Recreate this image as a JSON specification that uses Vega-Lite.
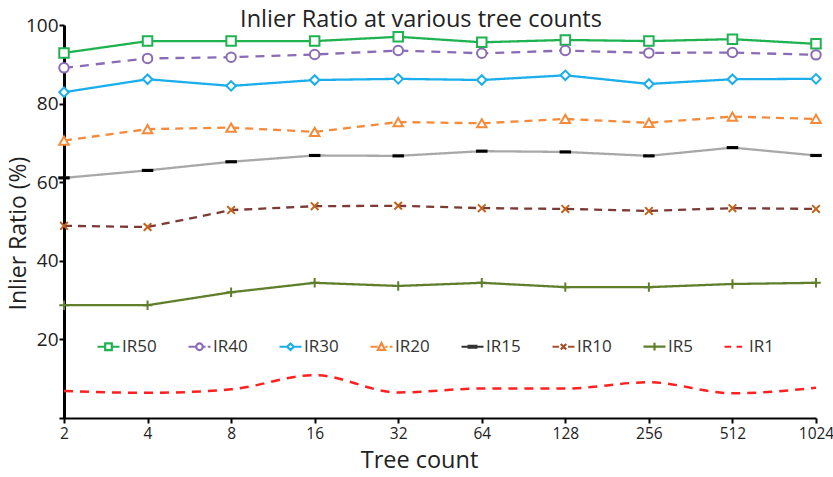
{
  "$schema": "https://vega.github.io/schema/vega-lite/v6.json",
  "width": 752,
  "height": 393,
  "autosize": "none",
  "padding": {"left": 64, "top": 25, "right": 17, "bottom": 59},
  "background": "white",
  "title": {"text": "Inlier Ratio at various tree counts", "font": "Open Sans", "fontSize": 23.5, "fontWeight": "normal", "color": "#222222", "anchor": "middle", "dx": -19, "offset": -1, "dy": 14},
  "config": {"view": {"stroke": null}, "font": "Open Sans"},
  "data": {"values": [
    {"trees": 2, "series": "IR50", "value": 92.9}, {"trees": 4, "series": "IR50", "value": 95.9}, {"trees": 8, "series": "IR50", "value": 95.9}, {"trees": 16, "series": "IR50", "value": 95.9}, {"trees": 32, "series": "IR50", "value": 97.0}, {"trees": 64, "series": "IR50", "value": 95.6}, {"trees": 128, "series": "IR50", "value": 96.2}, {"trees": 256, "series": "IR50", "value": 95.9}, {"trees": 512, "series": "IR50", "value": 96.4}, {"trees": 1024, "series": "IR50", "value": 95.2},
    {"trees": 2, "series": "IR40", "value": 89.1}, {"trees": 4, "series": "IR40", "value": 91.5}, {"trees": 8, "series": "IR40", "value": 91.8}, {"trees": 16, "series": "IR40", "value": 92.5}, {"trees": 32, "series": "IR40", "value": 93.5}, {"trees": 64, "series": "IR40", "value": 92.8}, {"trees": 128, "series": "IR40", "value": 93.5}, {"trees": 256, "series": "IR40", "value": 92.9}, {"trees": 512, "series": "IR40", "value": 93.0}, {"trees": 1024, "series": "IR40", "value": 92.4},
    {"trees": 2, "series": "IR30", "value": 82.9}, {"trees": 4, "series": "IR30", "value": 86.2}, {"trees": 8, "series": "IR30", "value": 84.5}, {"trees": 16, "series": "IR30", "value": 86.0}, {"trees": 32, "series": "IR30", "value": 86.3}, {"trees": 64, "series": "IR30", "value": 86.0}, {"trees": 128, "series": "IR30", "value": 87.2}, {"trees": 256, "series": "IR30", "value": 85.0}, {"trees": 512, "series": "IR30", "value": 86.2}, {"trees": 1024, "series": "IR30", "value": 86.3},
    {"trees": 2, "series": "IR20", "value": 70.6}, {"trees": 4, "series": "IR20", "value": 73.5}, {"trees": 8, "series": "IR20", "value": 73.9}, {"trees": 16, "series": "IR20", "value": 72.8}, {"trees": 32, "series": "IR20", "value": 75.3}, {"trees": 64, "series": "IR20", "value": 75.0}, {"trees": 128, "series": "IR20", "value": 76.1}, {"trees": 256, "series": "IR20", "value": 75.1}, {"trees": 512, "series": "IR20", "value": 76.7}, {"trees": 1024, "series": "IR20", "value": 76.1},
    {"trees": 2, "series": "IR15", "value": 61.1}, {"trees": 4, "series": "IR15", "value": 63.0}, {"trees": 8, "series": "IR15", "value": 65.2}, {"trees": 16, "series": "IR15", "value": 66.8}, {"trees": 32, "series": "IR15", "value": 66.7}, {"trees": 64, "series": "IR15", "value": 67.9}, {"trees": 128, "series": "IR15", "value": 67.7}, {"trees": 256, "series": "IR15", "value": 66.7}, {"trees": 512, "series": "IR15", "value": 68.8}, {"trees": 1024, "series": "IR15", "value": 66.8},
    {"trees": 2, "series": "IR10", "value": 48.9}, {"trees": 4, "series": "IR10", "value": 48.6}, {"trees": 8, "series": "IR10", "value": 52.9}, {"trees": 16, "series": "IR10", "value": 53.9}, {"trees": 32, "series": "IR10", "value": 54.0}, {"trees": 64, "series": "IR10", "value": 53.4}, {"trees": 128, "series": "IR10", "value": 53.2}, {"trees": 256, "series": "IR10", "value": 52.7}, {"trees": 512, "series": "IR10", "value": 53.4}, {"trees": 1024, "series": "IR10", "value": 53.2},
    {"trees": 2, "series": "IR5", "value": 28.7}, {"trees": 4, "series": "IR5", "value": 28.7}, {"trees": 8, "series": "IR5", "value": 32.0}, {"trees": 16, "series": "IR5", "value": 34.4}, {"trees": 32, "series": "IR5", "value": 33.6}, {"trees": 64, "series": "IR5", "value": 34.4}, {"trees": 128, "series": "IR5", "value": 33.3}, {"trees": 256, "series": "IR5", "value": 33.3}, {"trees": 512, "series": "IR5", "value": 34.1}, {"trees": 1024, "series": "IR5", "value": 34.4},
    {"trees": 2, "series": "IR1", "value": 6.9}, {"trees": 4, "series": "IR1", "value": 6.4}, {"trees": 8, "series": "IR1", "value": 7.3}, {"trees": 16, "series": "IR1", "value": 10.9}, {"trees": 32, "series": "IR1", "value": 6.5}, {"trees": 64, "series": "IR1", "value": 7.5}, {"trees": 128, "series": "IR1", "value": 7.5}, {"trees": 256, "series": "IR1", "value": 9.1}, {"trees": 512, "series": "IR1", "value": 6.3}, {"trees": 1024, "series": "IR1", "value": 7.7}
  ]},
  "encoding": {
    "x": {"field": "trees", "type": "ordinal", "sort": "ascending", "scale": {"type": "point", "padding": 0},
      "axis": {"title": "Tree count", "labelAngle": 0, "labelFont": "Open Sans", "labelFontSize": 15.5, "labelColor": "#222222", "labelPadding": 3,
        "domainColor": "#000000", "domainWidth": 2, "tickColor": "#000000", "tickWidth": 2, "tickSize": 5,
        "titleFont": "Open Sans", "titleFontSize": 23.5, "titleFontWeight": "normal", "titleColor": "#222222", "titlePadding": 7, "titleX": 355}},
    "y": {"field": "value", "type": "quantitative", "scale": {"domain": [0, 100], "nice": false},
      "axis": {"title": "Inlier Ratio (%)", "values": [0, 20, 40, 60, 80, 100], "labelExpr": "datum.value == 0 ? '' : datum.label", "grid": false,
        "labelFont": "Open Sans", "labelFontSize": 19, "labelColor": "#222222", "labelPadding": 1,
        "domainColor": "#000000", "domainWidth": 3, "tickColor": "#000000", "tickWidth": 2, "tickSize": 5,
        "titleFont": "Open Sans", "titleFontSize": 23, "titleFontWeight": "normal", "titleColor": "#222222", "titlePadding": -5, "titleY": 208}}
  },
  "layer": [
    {
      "transform": [{"filter": "datum.series != 'IR1'"}],
      "mark": {"type": "line", "strokeWidth": 2.3},
      "encoding": {
        "color": {"field": "series", "type": "nominal", "legend": null,
          "scale": {"domain": ["IR50", "IR40", "IR30", "IR20", "IR15", "IR10", "IR5", "IR1"], "range": ["#1fb250", "#8a6bb5", "#1aaeed", "#f58a3b", "#a8a8a8", "#7b3a34", "#5f7f2c", "#ff2020"]}},
        "strokeDash": {"field": "series", "type": "nominal", "legend": null,
          "scale": {"domain": ["IR50", "IR40", "IR30", "IR20", "IR15", "IR10", "IR5", "IR1"], "range": [[1, 0], [9, 7], [1, 0], [8, 6], [1, 0], [8, 6], [1, 0], [9, 7]]}}
      }
    },
    {
      "transform": [{"filter": "datum.series == 'IR1'"}],
      "mark": {"type": "line", "strokeWidth": 2.5, "interpolate": "monotone", "strokeDash": [9, 7]},
      "encoding": {
        "color": {"field": "series", "type": "nominal", "legend": null,
          "scale": {"domain": ["IR1"], "range": ["#ff2020"]}}
      }
    },
    {
      "transform": [{"filter": "datum.series != 'IR1'"}],
      "mark": {"type": "point", "filled": false, "fill": "white", "strokeWidth": 2, "size": 90, "opacity": 1},
      "encoding": {
        "color": {"field": "series", "type": "nominal", "legend": null,
          "scale": {"domain": ["IR50", "IR40", "IR30", "IR20", "IR15", "IR10", "IR5", "IR1"], "range": ["#1fb250", "#8a6bb5", "#1aaeed", "#f58a3b", "#000000", "#c0621c", "#5f7f2c", "#ff2020"]}},
        "shape": {"field": "series", "type": "nominal", "legend": null,
          "scale": {"domain": ["IR50", "IR40", "IR30", "IR20", "IR15", "IR10", "IR5", "IR1"],
            "range": ["square", "circle", "diamond", "triangle-up", "M-1,-0.12H1V0.12H-1Z", "M-0.8,-0.8L0.8,0.8M-0.8,0.8L0.8,-0.8", "M-1,0H1M0,-1V1", "M0,0"]}}
      }
    },
    {
      "mark": {"type": "point", "filled": false, "opacity": 0, "strokeWidth": 2},
      "encoding": {
        "color": {"field": "series", "type": "nominal",
          "scale": {"domain": ["IR50", "IR40", "IR30", "IR20", "IR15", "IR10", "IR5", "IR1"], "range": ["#1fb250", "#8a6bb5", "#1aaeed", "#f58a3b", "#333333", "#a4502a", "#5f7f2c", "#ff2020"]},
          "legend": {"title": null, "orient": "none", "legendX": 32, "legendY": 309, "direction": "horizontal", "columns": 8, "columnPadding": 27,
            "symbolOpacity": 1, "symbolSize": 484, "symbolStrokeWidth": 2.2, "symbolFillColor": "white",
            "labelFont": "Open Sans", "labelFontSize": 17, "labelColor": "#333333", "labelOffset": 1}},
        "shape": {"field": "series", "type": "nominal",
          "scale": {"domain": ["IR50", "IR40", "IR30", "IR20", "IR15", "IR10", "IR5", "IR1"],
            "range": [
              "M-1,0H-0.3M0.3,0H1M-0.3,-0.3H0.3V0.3H-0.3Z",
              "M-1,0H-0.35M0.35,0H0.55M0.75,0H1M0.3,0A0.3,0.3 0 1 1 -0.3,0A0.3,0.3 0 1 1 0.3,0Z",
              "M-1,0H-0.3M0.3,0H1M0,-0.3L0.3,0L0,0.3L-0.3,0Z",
              "M-1,0H-0.35M0.35,0H0.55M0.75,0H1M0,-0.35L0.33,0.28H-0.33Z",
              "M-1,0H1M-0.35,-0.08H0.35V0.08H-0.35Z",
              "M-1,0H-0.4M0.4,0H1M-0.25,-0.25L0.25,0.25M-0.25,0.25L0.25,-0.25",
              "M-1,0H1M0,-0.35V0.35",
              "M-1,0H-0.4M0.1,0H0.6"
            ]},
          "legend": {"title": null, "orient": "none", "legendX": 32, "legendY": 309, "direction": "horizontal", "columns": 8, "columnPadding": 27,
            "symbolOpacity": 1, "symbolSize": 484, "symbolStrokeWidth": 2.2, "symbolFillColor": "white",
            "labelFont": "Open Sans", "labelFontSize": 17, "labelColor": "#333333", "labelOffset": 1}}
      }
    }
  ],
  "resolve": {"scale": {"color": "independent", "shape": "independent", "strokeDash": "independent"}}
}
